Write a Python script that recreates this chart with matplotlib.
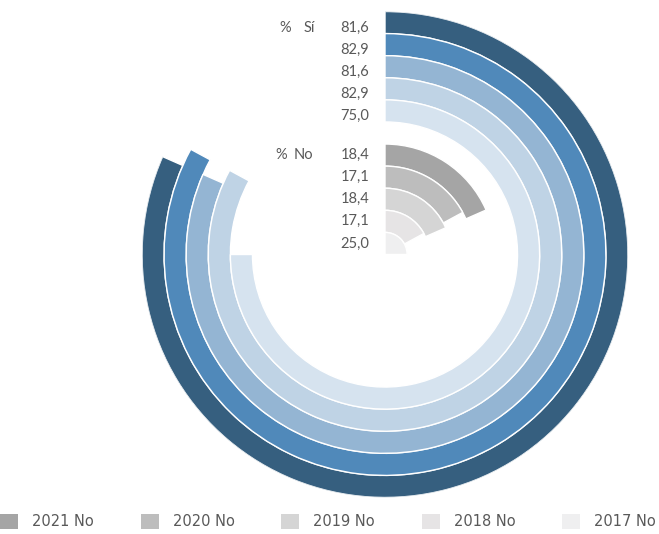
import numpy as np
import matplotlib
matplotlib.use("Agg")
import matplotlib.pyplot as plt
from matplotlib.patches import Patch
from matplotlib.transforms import offset_copy

plt.rcParams['font.family'] = ['Lato', 'DejaVu Sans']

years = ['2021', '2020', '2019', '2018', '2017']
si_values = [81.6, 82.9, 81.6, 82.9, 75.0]
no_values = [18.4, 17.1, 18.4, 17.1, 25.0]
si_colors = ['#365f7f', '#5089ba', '#94b5d3', '#bfd3e5', '#d6e3ef']
no_colors = ['#a5a5a5', '#bdbdbd', '#d5d5d5', '#e6e4e5', '#efeff0']

W, H = 659, 534
fig = plt.figure(figsize=(W / 100, H / 100), dpi=100)
cx, cy, R = 385, 254.5, 243
ax = fig.add_axes([(cx - R) / W, (H - cy - R) / H, 2 * R / W, 2 * R / H], projection='polar')
ax.set_theta_zero_location('N')
ax.set_theta_direction(-1)
ax.set_ylim(0, 11)
ax.axis('off')

txt = '#595959'


def tr(dx, dy):
    return offset_copy(ax.transData, fig=fig, x=dx, y=dy, units='dots')


def fmt(v):
    return f'{v:.1f}'.replace('.', ',')


# Sí rings: slots 10 (outer) down to 6
for i, (v, c) in enumerate(zip(si_values, si_colors)):
    slot = 10 - i
    ax.bar(0, 1, width=v / 100 * 2 * np.pi, bottom=slot, align='edge',
           color=c, edgecolor='white', linewidth=1)
    ax.text(0, slot + 0.5, fmt(v), transform=tr(-16, -5),
            ha='right', va='center', fontsize=10.5, color=txt)

# No rings: slots 4 down to 0
for i, (v, c) in enumerate(zip(no_values, no_colors)):
    slot = 4 - i
    ax.bar(0, 1, width=v / 100 * 2 * np.pi, bottom=slot, align='edge',
           color=c, edgecolor='white', linewidth=1)
    ax.text(0, slot + 0.5, fmt(v), transform=tr(-16, 0),
            ha='right', va='center', fontsize=10.5, color=txt)

ax.text(0, 10.5, '%', transform=tr(-94, -5), ha='right', va='center', fontsize=10.5, color=txt)
ax.text(0, 10.5, 'Sí', transform=tr(-70, -5), ha='right', va='center', fontsize=10.5, color=txt)
ax.text(0, 4.5, '%', transform=tr(-98, 0), ha='right', va='center', fontsize=10.5, color=txt)
ax.text(0, 4.5, 'No', transform=tr(-72, 0), ha='right', va='center', fontsize=10.5, color=txt)

handles = [Patch(facecolor=c, edgecolor='none') for c in no_colors]
fig.legend(handles, [f'{y} No' for y in years], loc='center left',
           bbox_to_anchor=(0, 1 - 521.5 / H), ncol=5, frameon=False,
           prop={'family': 'DejaVu Sans', 'size': 10.5},
           borderpad=0, borderaxespad=0, handlelength=1.25, handleheight=1.25,
           handletextpad=0.95, columnspacing=3.2, labelcolor=txt)

fig.savefig('out.png', dpi=100)
